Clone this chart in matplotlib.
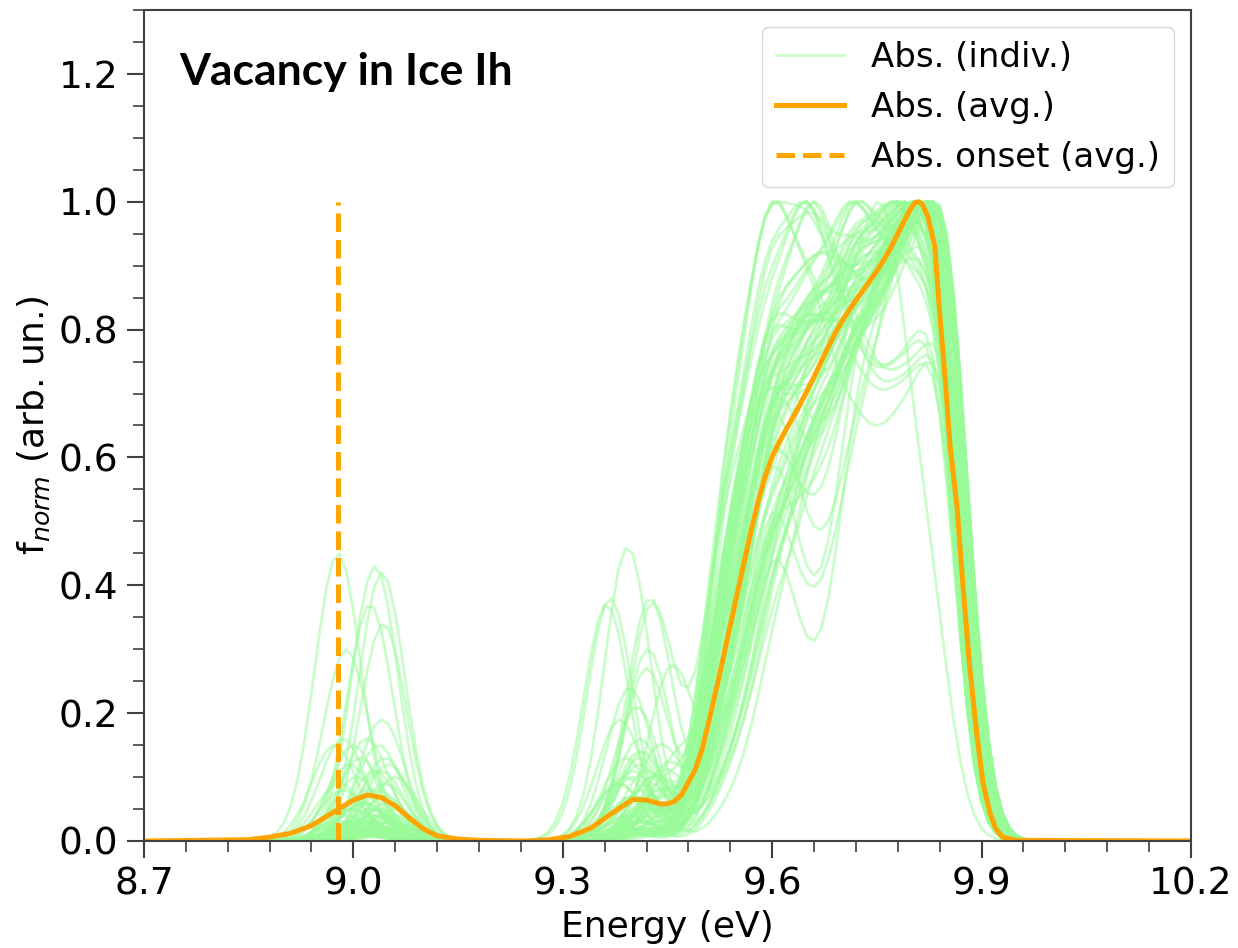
"""
Normalised absorption spectra of a vacancy in ice Ih: one thin curve per
sampled configuration, the configuration average and its onset energy.
"""

import numpy as np
import matplotlib.pyplot as plt
from matplotlib.ticker import MultipleLocator

# energy grid (eV) and gaussian broadening width (eV)
energy = np.round(np.arange(8.70, 10.2001, 0.01), 3)
width = 0.033

# lowest excitation of every configuration (energy, height)
low_e = [8.978, 9.031, 9.041, 9.024, 9.043, 8.990, 9.041, 8.985, 9.019, 9.036,
         9.000, 8.973, 9.010, 9.050, 8.995, 9.030, 9.060, 9.005, 9.045, 8.980,
         9.020, 9.035, 9.015, 9.050, 9.000, 9.040, 9.025, 8.990, 9.060, 9.030,
         9.010, 9.045, 9.020, 8.985, 9.050, 9.035, 9.000, 9.065, 9.025, 9.040,
         9.015, 9.055, 8.995, 9.030, 9.045, 9.010, 9.035, 9.020, 9.050, 9.000,
         9.040, 9.025, 9.060, 9.015, 9.030, 9.010, 9.045, 8.985, 9.030, 9.020,
         9.005, 9.040, 9.020, 9.055, 8.995, 9.030, 9.015, 9.045, 9.000, 9.035,
         9.025, 9.050, 8.990, 9.040, 9.010, 9.030, 9.060, 9.020, 9.045, 9.005]
low_f = [0.45, 0.43, 0.42, 0.37, 0.34, 0.30, 0.19, 0.16, 0.16, 0.15,
         0.15, 0.15, 0.13, 0.12, 0.12, 0.11, 0.10, 0.10, 0.09, 0.09,
         0.08, 0.07, 0.06, 0.06, 0.05, 0.05, 0.05, 0.04, 0.04, 0.04,
         0.035, 0.035, 0.03, 0.03, 0.03, 0.03, 0.025, 0.025, 0.025, 0.02,
         0.02, 0.02, 0.02, 0.02, 0.015, 0.015, 0.015, 0.015, 0.01, 0.01,
         0.01, 0.01, 0.01, 0.01, 0.05, 0.06, 0.07, 0.08, 0.04, 0.03,
         0.02, 0.04, 0.01, 0.03, 0.05, 0.02, 0.06, 0.015, 0.03, 0.08,
         0.01, 0.04, 0.02, 0.11, 0.03, 0.015, 0.05, 0.02, 0.13, 0.01]

# second excitation, below the main band (energy, height)
mid_e = [9.420, 9.400, 9.380, 9.440, 9.410, 9.430, 9.393, 9.368, 9.363, 9.425,
         9.428, 9.422, 9.456, 9.420, 9.396, 9.382, 9.406, 9.440, 9.410, 9.390,
         9.450, 9.420, 9.400, 9.430, 9.380, 9.445, 9.415, 9.400, 9.460, 9.420,
         9.390, 9.435, 9.410, 9.450, 9.400, 9.425, 9.380, 9.440, 9.415, 9.405,
         9.430, 9.395, 9.455, 9.420, 9.410, 9.440, 9.400, 9.430, 9.385, 9.450,
         9.415, 9.425, 9.400, 9.435, 9.410, 9.440, 9.395, 9.425, 9.405, 9.445,
         9.410, 9.440, 9.395, 9.425, 9.450, 9.405, 9.430, 9.385, 9.445, 9.415,
         9.435, 9.400, 9.420, 9.455, 9.410, 9.390, 9.430, 9.440, 9.405, 9.425]
mid_f = [0.05, 0.03, 0.02, 0.08, 0.04, 0.06, 0.46, 0.38, 0.37, 0.38,
         0.37, 0.30, 0.27, 0.27, 0.24, 0.19, 0.21, 0.15, 0.14, 0.13,
         0.12, 0.11, 0.10, 0.10, 0.09, 0.09, 0.08, 0.07, 0.12, 0.06,
         0.10, 0.05, 0.13, 0.08, 0.11, 0.06, 0.09, 0.05, 0.14, 0.07,
         0.10, 0.04, 0.08, 0.06, 0.12, 0.02, 0.015, 0.015, 0.015, 0.01,
         0.01, 0.01, 0.01, 0.01, 0.02, 0.03, 0.04, 0.05, 0.06, 0.07,
         0.03, 0.05, 0.02, 0.09, 0.04, 0.02, 0.06, 0.03, 0.11, 0.02,
         0.04, 0.07, 0.03, 0.05, 0.16, 0.02, 0.04, 0.08, 0.03, 0.05]

# main band: six levels, shifted per configuration, with relative strengths
band_levels = [9.535, 9.595, 9.655, 9.715, 9.775, 9.835]
band_shift = [0.000, 0.005, -0.005, 0.010, 0.005, -0.010, 0.000, 0.010, 0.015, 0.005,
              -0.005, 0.010, 0.005, 0.000, 0.015, -0.010, 0.005, 0.010, 0.000, -0.015,
              0.010, 0.005, 0.015, 0.000, 0.010, -0.005, 0.010, 0.005, 0.000, 0.010,
              -0.010, 0.015, 0.005, 0.000, 0.015, -0.005, 0.010, 0.005, 0.015, 0.000,
              -0.010, 0.010, 0.015, 0.005, 0.000, 0.015, -0.005, 0.010, 0.005, 0.015,
              0.000, 0.010, -0.005, 0.015, 0.005, 0.010, 0.000, 0.015, -0.005, 0.005,
              0.000, 0.010, -0.005, 0.015, 0.005, -0.010, 0.010, 0.000, 0.015, 0.005,
              -0.005, 0.010, 0.000, 0.015, 0.005, -0.010, 0.010, 0.005, 0.000, 0.015]
band_s1 = [0.25, 0.50, 0.10, 0.15, 0.30, 0.25, 0.20, 0.30, 0.08, 0.22,
           0.40, 0.10, 0.12, 0.30, 0.05, 0.35, 0.15, 0.25, 0.45, 0.25,
           0.20, 0.28, 0.10, 0.32, 0.20, 0.28, 0.12, 0.40, 0.22, 0.08,
           0.30, 0.22, 0.32, 0.12, 0.26, 0.15, 0.25, 0.08, 0.32, 0.25,
           0.12, 0.40, 0.22, 0.28, 0.10, 0.25, 0.40, 0.18, 0.15, 0.30,
           0.25, 0.08, 0.30, 0.15, 0.35, 0.18, 0.25, 0.28, 0.15, 0.12,
           0.28, 0.20, 0.35, 0.15, 0.30, 0.22, 0.12, 0.32, 0.25, 0.18,
           0.38, 0.22, 0.28, 0.10, 0.30, 0.25, 0.20, 0.15, 0.35, 0.22]
band_s2 = [0.45, 0.75, 0.30, 0.30, 0.50, 0.50, 0.45, 0.40, 0.28, 0.50,
           0.60, 0.35, 0.35, 0.55, 0.25, 0.50, 0.35, 0.50, 0.80, 0.50,
           0.45, 0.50, 0.30, 0.55, 0.45, 0.48, 0.32, 0.60, 0.45, 0.30,
           0.50, 0.48, 0.55, 0.32, 0.50, 0.35, 0.50, 0.28, 0.55, 0.45,
           0.35, 0.62, 0.48, 0.52, 0.32, 0.50, 0.60, 0.45, 0.32, 0.55,
           0.48, 0.25, 0.55, 0.30, 0.55, 0.45, 0.50, 0.52, 0.32, 0.40,
           0.50, 0.45, 0.60, 0.35, 0.55, 0.48, 0.35, 0.55, 0.50, 0.42,
           0.65, 0.45, 0.50, 0.30, 0.55, 0.50, 0.45, 0.38, 0.60, 0.48]
band_s3 = [0.50, 0.60, 0.40, 0.45, 0.55, 0.45, 0.55, 0.55, 0.45, 0.45,
           0.75, 0.12, 0.40, 0.55, 0.45, 0.55, 0.35, 0.35, 0.65, 0.50,
           0.50, 0.55, 0.40, 0.60, 0.18, 0.55, 0.45, 0.78, 0.50, 0.48,
           0.45, 0.52, 0.58, 0.40, 0.55, 0.45, 0.25, 0.42, 0.58, 0.48,
           0.45, 0.75, 0.55, 0.55, 0.45, 0.38, 0.72, 0.52, 0.40, 0.58,
           0.50, 0.38, 0.58, 0.42, 0.50, 0.55, 0.52, 0.58, 0.42, 0.20,
           0.55, 0.50, 0.65, 0.45, 0.52, 0.55, 0.45, 0.50, 0.55, 0.50,
           0.62, 0.30, 0.55, 0.42, 0.58, 0.52, 0.50, 0.48, 0.62, 0.55]
band_s4 = [0.55, 0.45, 0.50, 0.55, 0.68, 0.60, 0.55, 0.65, 0.50, 0.55,
           0.55, 0.50, 0.55, 0.70, 0.55, 0.55, 0.50, 0.60, 0.55, 0.55,
           0.60, 0.66, 0.50, 0.70, 0.55, 0.52, 0.50, 0.55, 0.58, 0.52,
           0.55, 0.50, 0.66, 0.52, 0.62, 0.50, 0.45, 0.52, 0.55, 0.58,
           0.55, 0.55, 0.50, 0.70, 0.55, 0.52, 0.55, 0.60, 0.50, 0.62,
           0.55, 0.52, 0.68, 0.52, 0.55, 0.55, 0.58, 0.64, 0.52, 0.42,
           0.60, 0.55, 0.55, 0.55, 0.65, 0.58, 0.55, 0.62, 0.60, 0.55,
           0.55, 0.55, 0.65, 0.52, 0.60, 0.55, 0.62, 0.55, 0.58, 0.62]
band_s5 = [0.60, 0.45, 0.60, 0.55, 0.62, 0.60, 0.60, 0.70, 0.55, 0.65,
           0.50, 0.60, 0.60, 0.60, 0.60, 0.60, 0.65, 0.60, 0.50, 0.75,
           0.60, 0.72, 0.60, 0.62, 0.60, 0.62, 0.62, 0.50, 0.62, 0.58,
           0.62, 0.58, 0.70, 0.62, 0.72, 0.60, 0.60, 0.62, 0.60, 0.65,
           0.62, 0.50, 0.60, 0.62, 0.60, 0.60, 0.48, 0.62, 0.58, 0.70,
           0.62, 0.60, 0.62, 0.55, 0.60, 0.60, 0.62, 0.70, 0.60, 0.62,
           0.62, 0.60, 0.55, 0.62, 0.68, 0.62, 0.60, 0.65, 0.62, 0.62,
           0.55, 0.62, 0.68, 0.60, 0.62, 0.60, 0.68, 0.62, 0.60, 0.65]
band_s6 = [0.72, 0.60, 0.72, 0.70, 0.60, 0.75, 0.70, 0.62, 0.72, 0.70,
           0.62, 0.72, 0.70, 0.62, 0.75, 0.75, 0.70, 0.72, 0.62, 0.35,
           0.72, 0.62, 0.70, 0.60, 0.72, 0.72, 0.72, 0.62, 0.70, 0.70,
           0.75, 0.70, 0.62, 0.72, 0.62, 0.75, 0.72, 0.72, 0.68, 0.72,
           0.75, 0.62, 0.72, 0.60, 0.72, 0.70, 0.62, 0.70, 0.72, 0.62,
           0.75, 0.72, 0.62, 0.70, 0.70, 0.72, 0.72, 0.62, 0.75, 0.72,
           0.70, 0.72, 0.65, 0.72, 0.62, 0.72, 0.72, 0.65, 0.70, 0.72,
           0.62, 0.72, 0.62, 0.72, 0.68, 0.72, 0.62, 0.72, 0.68, 0.65]

# configuration average
avg_e = [8.70, 8.85, 8.88, 8.91, 8.94, 8.97, 9.00, 9.02, 9.04, 9.06,
         9.08, 9.10, 9.12, 9.15, 9.18, 9.25, 9.28, 9.31, 9.34, 9.37,
         9.40, 9.42, 9.44, 9.45, 9.46, 9.47, 9.48, 9.49, 9.50, 9.51,
         9.52, 9.53, 9.54, 9.55, 9.56, 9.57, 9.58, 9.59, 9.60, 9.61,
         9.62, 9.63, 9.64, 9.65, 9.66, 9.67, 9.68, 9.69, 9.70, 9.71,
         9.72, 9.73, 9.74, 9.75, 9.76, 9.77, 9.78, 9.79, 9.80, 9.805,
         9.81, 9.815, 9.823, 9.833, 9.84, 9.848, 9.855, 9.865, 9.873, 9.883,
         9.893, 9.902, 9.912, 9.92, 9.93, 9.95, 10.20]
avg_f = [0.0, 0.002, 0.006, 0.012, 0.024, 0.044, 0.064, 0.072, 0.068, 0.055,
         0.036, 0.019, 0.008, 0.003, 0.001, 0.0, 0.002, 0.007, 0.020, 0.043,
         0.065, 0.064, 0.058, 0.058, 0.062, 0.072, 0.092, 0.112, 0.145, 0.190,
         0.238, 0.287, 0.337, 0.387, 0.437, 0.486, 0.532, 0.570, 0.601, 0.624,
         0.644, 0.663, 0.683, 0.704, 0.726, 0.749, 0.772, 0.794, 0.813, 0.830,
         0.846, 0.861, 0.876, 0.892, 0.909, 0.928, 0.950, 0.972, 0.992, 0.999,
         1.0, 0.996, 0.977, 0.930, 0.826, 0.721, 0.617, 0.521, 0.404, 0.272,
         0.169, 0.091, 0.044, 0.020, 0.006, 0.001, 0.0]
onset_avg = 8.978


def broaden(centres, heights):
    """Sum of gaussians of the given heights on the energy grid."""
    spec = np.zeros_like(energy)
    for c, h in zip(centres, heights):
        spec += h * np.exp(-(energy - c)**2 / (2 * width**2))
    return spec


fig, ax = plt.subplots(figsize=(12.38, 9.48), dpi=100)
fig.subplots_adjust(left=0.1163, right=0.962, top=0.9895, bottom=0.1129)

for i in range(len(low_e)):
    levels = [lv + band_shift[i] for lv in band_levels]
    strengths = [band_s1[i], band_s2[i], band_s3[i],
                 band_s4[i], band_s5[i], band_s6[i]]
    band = broaden(levels, strengths)
    band /= band.max()
    spec = band + broaden([low_e[i], mid_e[i]], [low_f[i], mid_f[i]])
    spec /= spec.max()
    ax.plot(energy, spec, color='palegreen', alpha=0.5, lw=2.0,
            label='Abs. (indiv.)' if i == 0 else None)

ax.plot(avg_e, avg_f, color='orange', lw=3.6, label='Abs. (avg.)')
ax.vlines(onset_avg, 0, 1, color='orange', lw=3.6, linestyles='--',
          label='Abs. onset (avg.)')

ax.set_xlim(8.7, 10.2)
ax.set_ylim(0, 1.3)
ax.set_xticks([8.7, 9.0, 9.3, 9.6, 9.9, 10.2])
ax.set_yticks([0.0, 0.2, 0.4, 0.6, 0.8, 1.0, 1.2])
ax.xaxis.set_minor_locator(MultipleLocator(0.06))
ax.yaxis.set_minor_locator(MultipleLocator(0.05))
ax.tick_params(which='major', length=12.5, width=1.5, labelsize=27,
               color='0.25', pad=6)
ax.tick_params(which='minor', length=8, width=1.2, color='0.25')
for sp in ax.spines.values():
    sp.set_linewidth(1.5)
    sp.set_color('0.25')

ax.set_xlabel('Energy (eV)', fontsize=26, labelpad=5.5)
ax.set_ylabel(r'f$_{norm}$ (arb. un.)', fontsize=26, labelpad=4.5)
ax.text(0.034, 0.925, 'Vacancy in Ice Ih', transform=ax.transAxes,
        fontsize=32, fontweight='bold', family=['Lato', 'DejaVu Sans'],
        va='center', ha='left')

leg = ax.legend(loc='upper right', fontsize=24.5)
leg.get_lines()[0].set_alpha(0.5)

plt.savefig('out.png', dpi=100)
